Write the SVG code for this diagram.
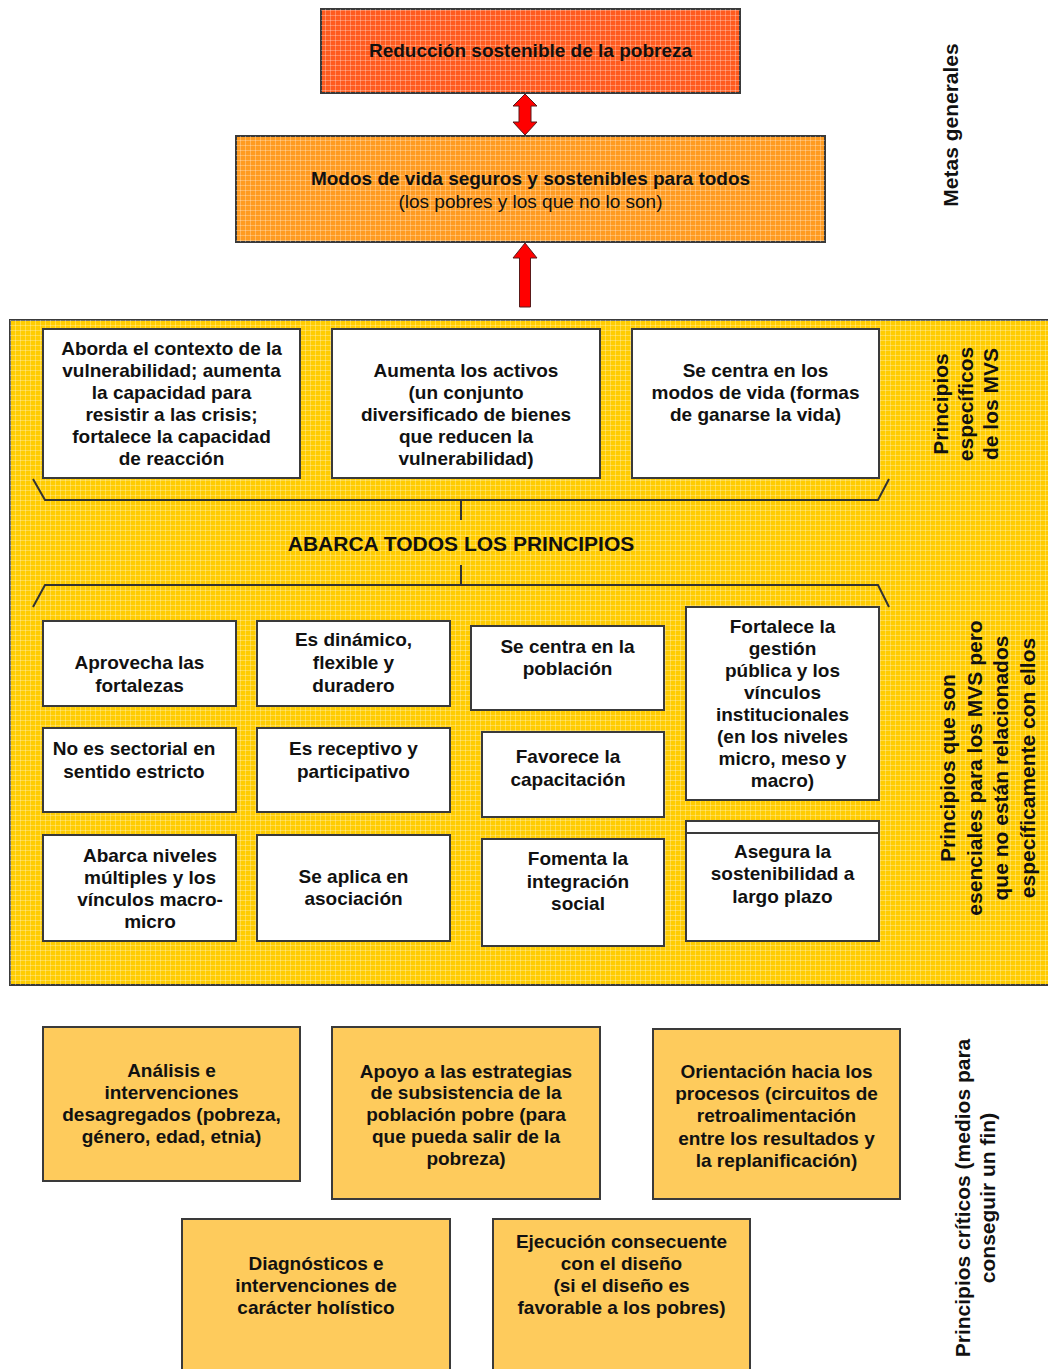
<svg xmlns="http://www.w3.org/2000/svg" width="1048" height="1369" viewBox="0 0 1048 1369">
<defs>
<pattern id="grid" width="5" height="5" patternUnits="userSpaceOnUse">
<path d="M0 0.5H5M0.5 0V5" stroke="#ffffff" stroke-opacity="0.28" stroke-width="1" fill="none"/>
</pattern>
</defs>
<style>
text{font-family:"Liberation Sans",Arial,Helvetica,sans-serif;fill:#111;}
.b{font-size:19px;font-weight:bold;text-anchor:middle;}
.r{font-size:19px;font-weight:normal;text-anchor:middle;}
.side{font-size:21px;font-weight:bold;text-anchor:middle;}
.big{font-size:21px;font-weight:bold;text-anchor:middle;}
.wbox{fill:#ffffff;stroke:#3a3a3a;stroke-width:2;}
.obox{fill:#FECB5C;stroke:#3a3a3a;stroke-width:2;}
.brace{fill:none;stroke:#333;stroke-width:2;}
.arrow{fill:#FF0000;stroke:#5a1a1a;stroke-width:1;}
</style>

<rect width="1048" height="1369" fill="#ffffff"/>

<!-- Goals -->
<g id="n-reduccion">
<rect x="321" y="9" width="419" height="84" fill="#FF5B1E" stroke="#3a3a3a" stroke-width="2"/>
<rect x="321" y="9" width="419" height="84" fill="url(#grid)"/>
<text class="b" x="530.5" y="57">Reducción sostenible de la pobreza</text>
</g>
<g id="n-modos">
<rect x="236" y="136" width="589" height="106" fill="#FF9B21" stroke="#3a3a3a" stroke-width="2"/>
<rect x="236" y="136" width="589" height="106" fill="url(#grid)"/>
<text class="b" x="530.5" y="185">Modos de vida seguros y sostenibles para todos</text>
<text class="r" x="530.5" y="208">(los pobres y los que no lo son)</text>
</g>
<g id="l-metas">
<text class="side" transform="translate(958,125) rotate(-90)">Metas generales</text>
</g>

<!-- Yellow panel -->
<g id="panel">
<rect x="10" y="320" width="1048" height="665" fill="#FFCC00" stroke="#3a3a3a" stroke-width="2"/>
<rect x="10" y="320" width="1048" height="665" fill="url(#grid)"/>
</g>

<g id="connectors">
<path class="arrow" d="M525 94 L537 106 L531 106 L531 122 L537 122 L525 135 L513 122 L519 122 L519 106 L513 106 Z"/>
<path class="arrow" d="M525 243 L537 258 L530.5 258 L530.5 307 L519.5 307 L519.5 258 L513 258 Z"/>
<path class="brace" d="M33 479 L45 500 L878 500 L889 479 M461 500 L461 520"/>
<path class="brace" d="M461 565 L461 585 M33 607 L45 585 L878 585 L889 607"/>
</g>

<g id="n-aborda">
<rect class="wbox" x="43" y="329" width="257" height="149"/>
<text class="b" x="171.5" y="355">Aborda el contexto de la</text>
<text class="b" x="171.5" y="377">vulnerabilidad; aumenta</text>
<text class="b" x="171.5" y="399">la capacidad para</text>
<text class="b" x="171.5" y="421">resistir a las crisis;</text>
<text class="b" x="171.5" y="443">fortalece la capacidad</text>
<text class="b" x="171.5" y="465">de reacción</text>
</g>
<g id="n-aumenta">
<rect class="wbox" x="332" y="329" width="268" height="149"/>
<text class="b" x="466" y="377">Aumenta los activos</text>
<text class="b" x="466" y="399">(un conjunto</text>
<text class="b" x="466" y="421">diversificado de bienes</text>
<text class="b" x="466" y="443">que reducen la</text>
<text class="b" x="466" y="465">vulnerabilidad)</text>
</g>
<g id="n-secentra-modos">
<rect class="wbox" x="632" y="329" width="247" height="149"/>
<text class="b" x="755.5" y="377">Se centra en los</text>
<text class="b" x="755.5" y="399">modos de vida (formas</text>
<text class="b" x="755.5" y="421">de ganarse la vida)</text>
</g>
<g id="l-especificos">
<text class="side" transform="translate(948,404) rotate(-90)"><tspan x="0" y="0">Principios</tspan><tspan x="0" y="25">específicos</tspan><tspan x="0" y="50">de los MVS</tspan></text>
</g>

<g id="n-abarca">
<text class="big" x="461" y="551">ABARCA TODOS LOS PRINCIPIOS</text>
</g>

<g id="n-aprovecha">
<rect class="wbox" x="43" y="621" width="193" height="85"/>
<text class="b" x="139.5" y="669">Aprovecha las</text>
<text class="b" x="139.5" y="692">fortalezas</text>
</g>
<g id="n-dinamico">
<rect class="wbox" x="257" y="621" width="193" height="85"/>
<text class="b" x="353.5" y="646">Es dinámico,</text>
<text class="b" x="353.5" y="669">flexible y</text>
<text class="b" x="353.5" y="692">duradero</text>
</g>
<g id="n-poblacion">
<rect class="wbox" x="471" y="626" width="193" height="84"/>
<text class="b" x="567.5" y="653">Se centra en la</text>
<text class="b" x="567.5" y="675">población</text>
</g>
<g id="n-fortalece">
<rect class="wbox" x="686" y="607" width="193" height="193"/>
<text class="b" x="782.5" y="633">Fortalece la</text>
<text class="b" x="782.5" y="655">gestión</text>
<text class="b" x="782.5" y="677">pública y los</text>
<text class="b" x="782.5" y="699">vínculos</text>
<text class="b" x="782.5" y="721">institucionales</text>
<text class="b" x="782.5" y="743">(en los niveles</text>
<text class="b" x="782.5" y="765">micro, meso y</text>
<text class="b" x="782.5" y="787">macro)</text>
</g>
<g id="n-sectorial">
<rect class="wbox" x="43" y="728" width="193" height="84"/>
<text class="b" x="134" y="755">No es sectorial en</text>
<text class="b" x="134" y="778">sentido estricto</text>
</g>
<g id="n-receptivo">
<rect class="wbox" x="257" y="728" width="193" height="84"/>
<text class="b" x="353.5" y="755">Es receptivo y</text>
<text class="b" x="353.5" y="778">participativo</text>
</g>
<g id="n-capacitacion">
<rect class="wbox" x="482" y="732" width="182" height="85"/>
<text class="b" x="568" y="763">Favorece la</text>
<text class="b" x="568" y="786">capacitación</text>
</g>
<g id="n-niveles">
<rect class="wbox" x="43" y="835" width="193" height="106"/>
<text class="b" x="150" y="862">Abarca niveles</text>
<text class="b" x="150" y="884">múltiples y los</text>
<text class="b" x="150" y="906">vínculos macro-</text>
<text class="b" x="150" y="928">micro</text>
</g>
<g id="n-asociacion">
<rect class="wbox" x="257" y="835" width="193" height="106"/>
<text class="b" x="353.5" y="883">Se aplica en</text>
<text class="b" x="353.5" y="905">asociación</text>
</g>
<g id="n-integracion">
<rect class="wbox" x="482" y="839" width="182" height="107"/>
<text class="b" x="578" y="865">Fomenta la</text>
<text class="b" x="578" y="888">integración</text>
<text class="b" x="578" y="910">social</text>
</g>
<g id="n-sostenibilidad">
<rect class="wbox" x="686" y="821" width="193" height="120"/>
<line x1="686" y1="833" x2="879" y2="833" stroke="#3a3a3a" stroke-width="2"/>
<text class="b" x="782.5" y="858">Asegura la</text>
<text class="b" x="782.5" y="880">sostenibilidad a</text>
<text class="b" x="782.5" y="903">largo plazo</text>
</g>
<g id="l-esenciales">
<text class="side" transform="translate(955,768) rotate(-90)"><tspan x="0" y="0">Principios que son</tspan><tspan x="0" y="26.5">esenciales para los MVS pero</tspan><tspan x="0" y="53">que no están relacionados</tspan><tspan x="0" y="79.5">específicamente con ellos</tspan></text>
</g>

<!-- Critical principles -->
<g id="n-analisis">
<rect class="obox" x="43" y="1027" width="257" height="154"/>
<text class="b" x="171.5" y="1077">Análisis e</text>
<text class="b" x="171.5" y="1099">intervenciones</text>
<text class="b" x="171.5" y="1121">desagregados (pobreza,</text>
<text class="b" x="171.5" y="1143">género, edad, etnia)</text>
</g>
<g id="n-apoyo">
<rect class="obox" x="332" y="1027" width="268" height="172"/>
<text class="b" x="466" y="1078">Apoyo a las estrategias</text>
<text class="b" x="466" y="1099">de subsistencia de la</text>
<text class="b" x="466" y="1121">población pobre (para</text>
<text class="b" x="466" y="1143">que pueda salir de la</text>
<text class="b" x="466" y="1165">pobreza)</text>
</g>
<g id="n-orientacion">
<rect class="obox" x="653" y="1029" width="247" height="170"/>
<text class="b" x="776.5" y="1078">Orientación hacia los</text>
<text class="b" x="776.5" y="1100">procesos (circuitos de</text>
<text class="b" x="776.5" y="1122">retroalimentación</text>
<text class="b" x="776.5" y="1145">entre los resultados y</text>
<text class="b" x="776.5" y="1167">la replanificación)</text>
</g>
<g id="n-diagnosticos">
<rect class="obox" x="182" y="1219" width="268" height="170"/>
<text class="b" x="316" y="1270">Diagnósticos e</text>
<text class="b" x="316" y="1292">intervenciones de</text>
<text class="b" x="316" y="1314">carácter holístico</text>
</g>
<g id="n-ejecucion">
<rect class="obox" x="493" y="1219" width="257" height="170"/>
<text class="b" x="621.5" y="1248">Ejecución consecuente</text>
<text class="b" x="621.5" y="1270">con el diseño</text>
<text class="b" x="621.5" y="1292">(si el diseño es</text>
<text class="b" x="621.5" y="1314">favorable a los pobres)</text>
</g>
<g id="l-criticos">
<text class="side" transform="translate(970,1198) rotate(-90)"><tspan x="0" y="0">Principios críticos (medios para</tspan><tspan x="0" y="25">conseguir un fin)</tspan></text>
</g>
</svg>
